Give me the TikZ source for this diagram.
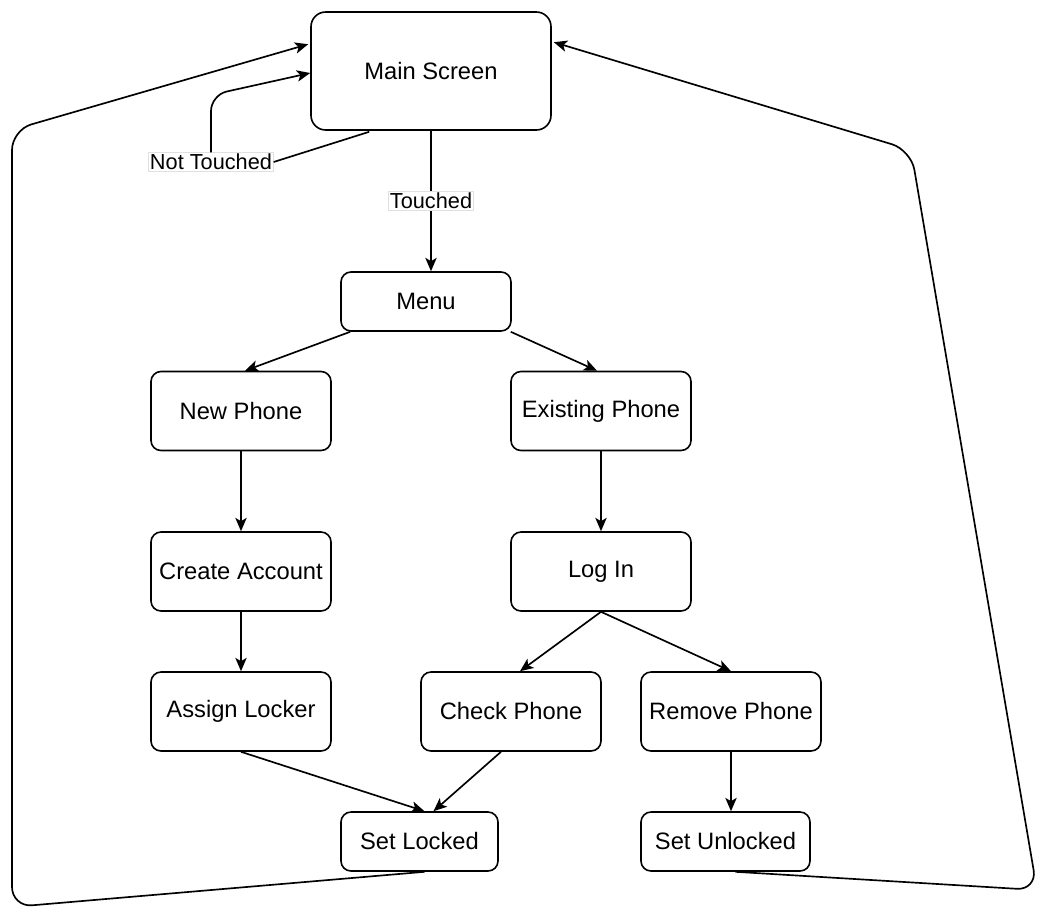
\documentclass[tikz,border=0pt]{standalone}
\usepackage{fontspec}
\setmainfont{Liberation Sans}
\usetikzlibrary{arrows.meta,calc}
\tikzset{
  box/.style={draw, line width=1.2pt, rounded corners=7.5pt, fill=white, inner sep=0pt,
    minimum width=135pt, minimum height=59.25pt, font=\fontsize{17.8}{20}\selectfont},
  lbl/.style={fill=white, draw=black!12, line width=0.4pt, inner sep=1pt, font=\fontsize{16.3}{18}\selectfont},
  conn/.style={line width=1.25pt, -{Stealth[length=10pt,width=8.5pt,inset=2.5pt]}},
  plain/.style={line width=1.25pt}
}
\begin{document}
\begin{tikzpicture}[x=0.75pt,y=-0.75pt]
\useasboundingbox (0,0) rectangle (1042,908);
% nodes
\node[box, minimum width=180pt, minimum height=88.5pt, rounded corners=11pt] (main) at (431,71) {Main Screen};
\node[box, minimum width=127.5pt, minimum height=44.25pt] (menu) at (426,301.5) {Menu};
\node[box] (newp) at (241,411) {New Phone};
\node[box] (exist) at (601,411) {Existing Phone};
\node[box] (create) at (241,571.5) {Create Account};
\node[box] (login) at (601,571.5) {Log In};
\node[box] (assign) at (241,711.5) {Assign Locker};
\node[box] (check) at (511,711.5) {Check Phone};
\node[box] (remove) at (731,711.5) {Remove Phone};
\node[box, minimum width=117.75pt, minimum height=44.25pt] (slock) at (419.5,841.5) {Set Locked};
\node[box, minimum width=126.75pt, minimum height=44.25pt] (sunlock) at (725.5,841.5) {Set Unlocked};
% touched
\draw[conn] (main.south) -- (main.south |- menu.north) node[lbl, pos=0.5] {Touched};
% not touched
\node[lbl] (nt) at (211,162) {Not Touched};
\coordinate (ntc) at (211,95);
\draw[plain] ($(main.south west)+(59,1)$) -- (nt.east);
\draw[conn, rounded corners=12pt] (nt.north) -- (ntc) -- ($(main.west)+(0,2)$);
% menu branches
\draw[conn] ($(menu.south west)+(10,0)$) -- ($(newp.north)+(4,0)$);
\draw[conn] ($(menu.south east)+(-1,0)$) -- ($(exist.north)+(-4,0)$);
\draw[conn] (newp.south) -- (create.north);
\draw[conn] (exist.south) -- (exist.south |- login.north);
\draw[conn] (create.south) -- (assign.north);
\draw[conn] (login.south) -- ($(check.north)+(9,0)$);
\draw[conn] (login.south) -- (remove.north);
\draw[conn] (assign.south) -- ($(slock.north)+(5,0)$);
\draw[conn] ($(check.south)+(-10,0)$) -- ($(slock.north)+(14,0)$);
\draw[conn] (remove.south) -- (remove.south |- sunlock.north);
% return loops
\coordinate (bl) at (12,907);
\coordinate (tl) at (12,130);
\draw[conn, rounded corners=15pt] ($(slock.south)+(5,0)$) -- (bl) -- (tl) -- ($(main.north west)+(-2,33)$);
\coordinate (br) at (1037,890);
\coordinate (tr) at (911,150);
\draw[conn, rounded corners=15pt] ($(sunlock.south)+(10,0)$) -- (br) -- (tr) -- ($(main.north east)+(2,31)$);
\end{tikzpicture}
\end{document}
